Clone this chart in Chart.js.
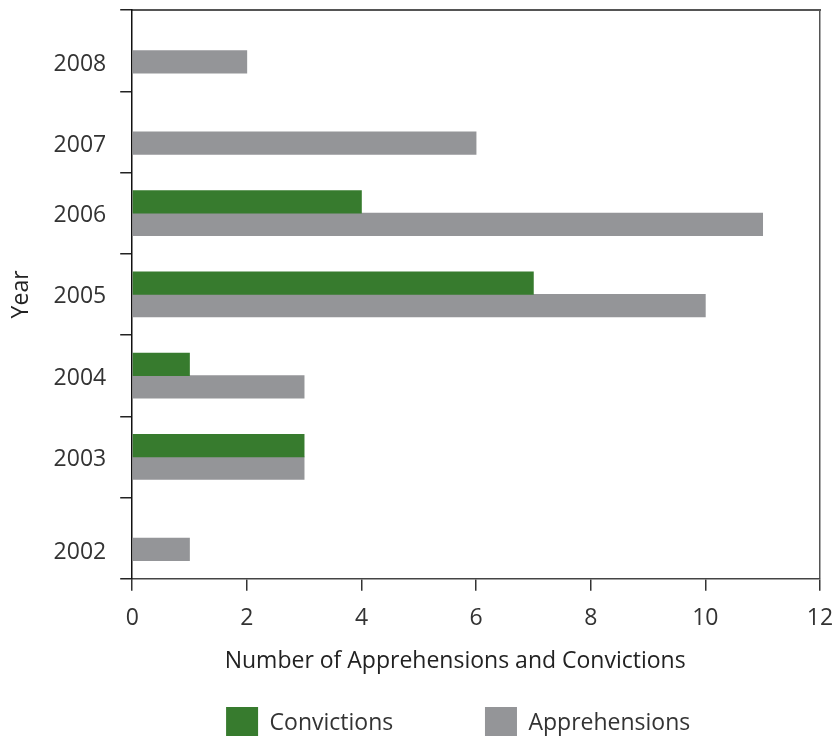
<!DOCTYPE html>
<html>
<head>
<meta charset="utf-8">
<script src="https://cdn.jsdelivr.net/npm/chart.js@4/dist/chart.umd.min.js"></script>
<style>
  html, body { margin: 0; padding: 0; background: #fff; overflow: hidden; }
  #box { width: 834px; height: 736px; }
</style>
</head>
<body>
<div id="box"><canvas id="chart"></canvas></div>
<script>
const years = ['2008', '2007', '2006', '2005', '2004', '2003', '2002'];
const convictions = [null, null, 4, 7, 1, 3, null];
const apprehensions = [2, 6, 11, 10, 3, 3, 1];
const xTicks = [0, 2, 4, 6, 8, 10, 12];

const font = { family: "'Open Sans', 'Noto Sans', sans-serif", size: 23 };
// trailing spaces nudge the legend gap and the x title like the original
const legendPad = ['          ', '      '];
const xTitlePad = '       ';

const ctx = document.querySelector('#chart').getContext('2d');

const chart = new Chart(ctx, {
    type: 'bar',
    data: {
        labels: years,
        datasets: [{
            label: 'Convictions',
            data: convictions,
            backgroundColor: '#377b2e'
        }, {
            label: 'Apprehensions',
            data: apprehensions,
            backgroundColor: '#949598'
        }]
    },
    options: {
        indexAxis: 'y',
        responsive: true,
        maintainAspectRatio: false,
        animation: false,
        barThickness: 22.5,
        layout: { padding: { top: 10, right: 14, left: 8, bottom: 0 } },
        plugins: {
            tooltip: { enabled: false },
            legend: {
                position: 'bottom',
                fullSize: false,
                maxHeight: 61,
                labels: {
                    font: font,
                    color: '#333',
                    boxWidth: 32,
                    boxHeight: 32,
                    padding: 32,
                    generateLabels: c => Chart.defaults.plugins.legend.labels.generateLabels(c)
                        .map((item, i) => ({ ...item, text: item.text + legendPad[i] }))
                }
            }
        },
        scales: {
            x: {
                min: 0,
                max: 12,
                afterBuildTicks: axis => { axis.ticks = xTicks.map(v => ({ value: v })); },
                afterFit: s => { s.paddingRight = 0; },
                border: { color: '#444', width: 1.5 },
                grid: {
                    color: c => c.tick && c.tick.value === 12 ? '#555' : 'rgba(0,0,0,0)',
                    lineWidth: 1.5,
                    tickColor: '#333',
                    tickLength: 12
                },
                ticks: { font: font, color: '#333', padding: 14 },
                title: {
                    display: true,
                    text: 'Number of Apprehensions and Convictions' + xTitlePad,
                    font: font,
                    color: '#222',
                    padding: { top: 1, bottom: 0 }
                }
            },
            // empty top axis: only its border, closing the frame
            x2: {
                position: 'top',
                min: 0,
                max: 12,
                ticks: { display: false },
                grid: { display: false, drawTicks: false },
                border: { color: '#555', width: 2 }
            },
            y: {
                afterFit: s => { s.paddingTop = 0; s.paddingBottom = 0; },
                border: { color: '#111', width: 1.5 },
                grid: {
                    offset: true,
                    color: c => c.index === 0 ? '#555' : 'rgba(0,0,0,0)',
                    lineWidth: 1.5,
                    tickColor: '#222',
                    tickLength: 12
                },
                ticks: {
                    color: '#333',
                    padding: 14,
                    // label sits on the bars: lower slot when only one bar is drawn
                    callback: (v, i) => ['', years[i]],
                    font: c => ({ ...font, lineHeight: convictions[c.index] == null ? 1.22 : 0.22 })
                },
                title: {
                    display: true,
                    text: 'Year',
                    font: font,
                    color: '#222',
                    padding: { top: 0, bottom: 4 }
                }
            }
        }
    }
});
</script>
</body>
</html>
